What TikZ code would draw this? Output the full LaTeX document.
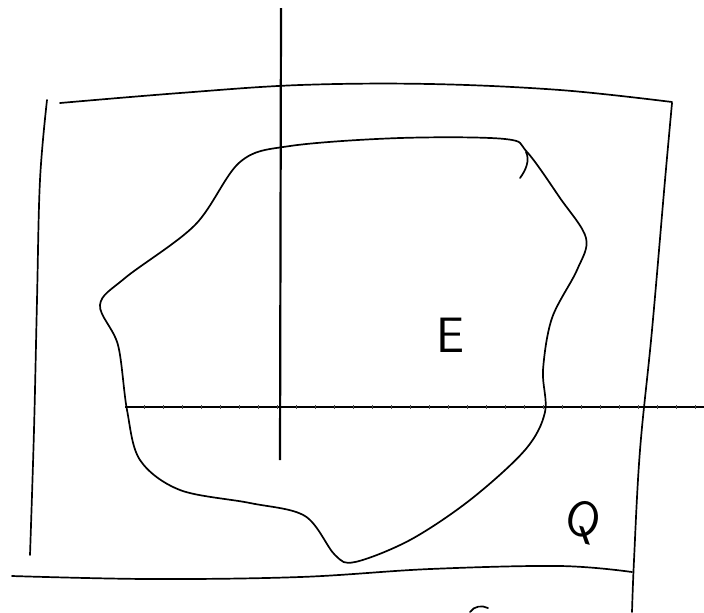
\documentclass[tikz,border=0pt]{standalone}
\usepackage{tikz}
\usetikzlibrary{positioning}

\begin{document}
\begin{tikzpicture}[
    x=0.5pt, y=-0.5pt,
    pen/.style={draw=black, line width=0.85pt, line cap=round, line join=round},
    axis/.style={draw=black, line width=1.1pt},
    tick/.style={draw=black!70, line width=0.4pt},
    letter/.style={font=\sffamily\Huge, inner sep=0pt}
]
    \useasboundingbox (0,0) rectangle (704,612);

    % Outer region Q
    \draw [pen] plot[smooth, tension=0.6] coordinates {(60,103) (180,93) (300,85) (430,84) (560,90) (672,102)};
    \draw [pen] plot[smooth, tension=0.6] coordinates {(47,100) (40,180) (37,300) (34,430) (30,555)};
    \draw [pen] plot[smooth, tension=0.6] coordinates {(672,103) (665,180) (652,330) (640,450) (634,560) (632,612)};
    \draw [pen] plot[smooth, tension=0.6] coordinates {(12,576) (150,579) (300,577) (430,569) (560,566) (632,572)};
    \draw [pen] (470,612) .. controls (474,606) and (482,605) .. (488,608);

    % Region E
    \draw [pen] plot[smooth cycle, tension=0.55] coordinates {
        (240,162) (290,146) (400,138) (505,139) (527,152)
        (560,198) (586,238) (577,270) (552,318) (543,370)
        (545,412) (525,450) (470,500) (410,540) (355,562)
        (335,555) (305,516) (250,503) (180,490) (140,460)
        (127,410) (118,345) (100,305) (125,278) (195,225)
    };
    \draw [pen] (526,152) .. controls (530,160) and (526,170) .. (520,178);

    % Axes
    \draw [axis] (281,8) -- (280,460);
    \draw [axis] (125,407) -- (704,407);
    \foreach \tx in {144,163,...,704}
        \draw [tick] (\tx,405) -- (\tx,409);

    % Labels
    \node (labelE) [letter] at (450,335) {E};
    \node (labelQ) [letter, rotate=-15] at (583,522) {Q};
\end{tikzpicture}
\end{document}
